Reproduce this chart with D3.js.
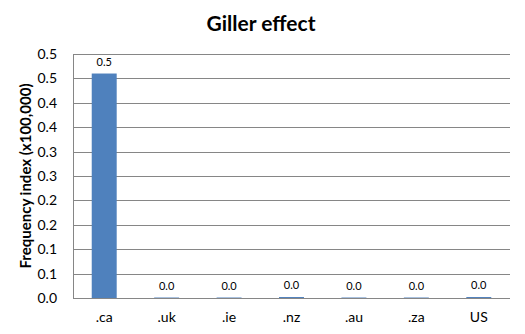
<!DOCTYPE html>
<html>
<head>
<meta charset="utf-8">
<script src="https://cdn.jsdelivr.net/npm/d3@7"></script>
<style>
  body { margin: 0; background: #fff; }
  svg text { font-family: Lato, "Open Sans", sans-serif; fill: #000; }
</style>
</head>
<body>
<svg id="chart" width="525" height="334"></svg>
<script>
// data
const domains = ['.ca', '.uk', '.ie', '.nz', '.au', '.za', 'US'];
const freqIndex = [0.46, 0.001, 0.001, 0.002, 0.001, 0.001, 0.002];
const yTicks = [0, 0.05, 0.1, 0.15, 0.2, 0.25, 0.3, 0.35, 0.4, 0.45, 0.5];

const svg = d3.select('#chart');
const plotL = 73, plotR = 510, plotT = 54, plotB = 298;

const x = d3.scaleBand()
    .domain(domains)
    .range([plotL, plotR])
    .paddingInner(0.6)
    .paddingOuter(0.3);

const y = d3.scaleLinear()
    .domain([0, 0.5])
    .range([plotB, plotT]);

// excel-ish rounding for the labels (0.05 -> 0.1)
const fmt = v => (Math.round(v * 10 + 1e-9) / 10).toFixed(1);

// gridlines
svg.append('g')
  .selectAll('line')
  .data(yTicks.slice(1))
  .enter()
  .append('line')
    .attr('x1', plotL).attr('x2', plotR)
    .attr('y1', d => Math.round(y(d)) + 0.5).attr('y2', d => Math.round(y(d)) + 0.5)
    .attr('stroke', '#868686').attr('stroke-width', 1);

// y axis
const yAxis = svg.append('g')
    .attr('transform', `translate(${plotL},0)`)
    .call(d3.axisLeft(y).tickValues(yTicks).tickFormat(fmt).tickSize(0).tickPadding(16));
yAxis.select('.domain').attr('stroke', '#868686').attr('shape-rendering', 'crispEdges');
yAxis.selectAll('text').style('font-size', '14px');

// x axis
const xAxis = svg.append('g')
    .attr('transform', `translate(0,${plotB})`)
    .call(d3.axisBottom(x).tickSize(0).tickPadding(14));
xAxis.select('.domain').attr('stroke', '#868686').attr('d', `M${plotL},0.5H${plotR}`);
xAxis.selectAll('text').style('font-size', '14px');

// bars
const rows = domains.map((d, i) => ({ cat: d, val: freqIndex[i] }));
svg.selectAll('.bar')
  .data(rows)
  .enter()
  .append('rect')
    .attr('class', 'bar')
    .attr('x', d => x(d.cat))
    .attr('width', x.bandwidth())
    .attr('y', d => y(d.val))
    .attr('height', d => plotB - y(d.val))
    .attr('fill', '#4F81BD');

// value labels
svg.selectAll('.lbl')
  .data(rows)
  .enter()
  .append('text')
    .attr('class', 'lbl')
    .attr('x', d => x(d.cat) + x.bandwidth() / 2)
    .attr('y', d => y(d.val) - 8)
    .attr('text-anchor', 'middle')
    .style('font-size', '11px')
    .text(d => fmt(d.val));

// title
svg.append('text')
    .attr('x', 261).attr('y', 31)
    .attr('text-anchor', 'middle')
    .style('font-size', '21px').style('font-weight', 'bold')
    .text('Giller effect');

// y title
svg.append('text')
    .attr('transform', `translate(31,${(plotT + plotB) / 2}) rotate(-90)`)
    .attr('text-anchor', 'middle')
    .style('font-size', '15px').style('font-weight', 'bold')
    .text('Frequency index (x100,000)');
</script>
</body>
</html>
